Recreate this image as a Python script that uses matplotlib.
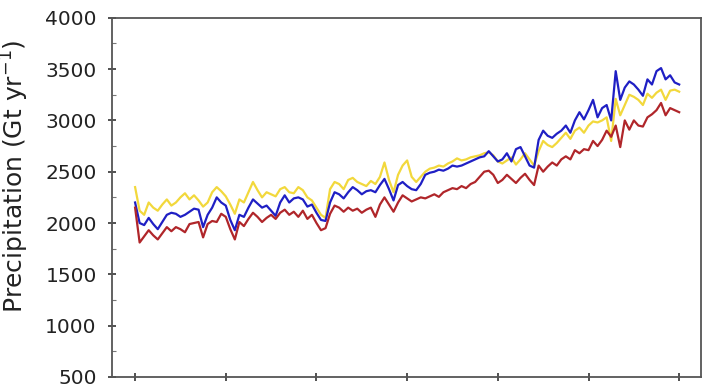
import matplotlib
matplotlib.use("Agg")
import matplotlib.pyplot as plt
from matplotlib.ticker import MultipleLocator

years = list(range(1980, 2101))

precip_red = [
    2150, 1810, 1870, 1930, 1880, 1840, 1900, 1960, 1920, 1960,
    1940, 1910, 1990, 2000, 2010, 1860, 1990, 2020, 2010, 2090,
    2060, 1940, 1840, 2010, 1970, 2040, 2100, 2060, 2010, 2050,
    2080, 2040, 2100, 2130, 2080, 2110, 2060, 2120, 2040, 2080,
    2000, 1930, 1950, 2090, 2170, 2150, 2110, 2150, 2120, 2140,
    2100, 2130, 2150, 2060, 2180, 2250, 2180, 2110, 2200, 2270,
    2240, 2210, 2230, 2250, 2240, 2260, 2280, 2255, 2300, 2320,
    2340, 2330, 2360, 2340, 2380, 2400, 2450, 2500, 2510, 2470,
    2390, 2420, 2470, 2430, 2390, 2440, 2480, 2420, 2370, 2560,
    2500, 2550, 2590, 2560, 2620, 2650, 2620, 2710, 2680, 2720,
    2710, 2800, 2750, 2810, 2900, 2840, 2950, 2740, 3000, 2910,
    3000, 2950, 2940, 3030, 3060, 3100, 3170, 3050, 3120, 3100,
    3080,
]

precip_blue = [
    2200, 2000, 1980, 2050, 1990, 1940, 2010, 2080, 2100, 2090,
    2060, 2080, 2110, 2140, 2130, 1960, 2080, 2150, 2250, 2200,
    2170, 2030, 1930, 2080, 2060, 2150, 2230, 2190, 2150, 2170,
    2120, 2070, 2200, 2270, 2200, 2240, 2250, 2230, 2160, 2180,
    2100, 2030, 2020, 2200, 2300, 2280, 2240, 2300, 2350, 2320,
    2280, 2310, 2320, 2300, 2370, 2430, 2330, 2220, 2370, 2400,
    2360, 2330, 2320, 2380, 2470, 2490, 2500, 2520, 2510, 2530,
    2560, 2550, 2560, 2580, 2600, 2620, 2640, 2650, 2700, 2650,
    2600, 2620, 2680, 2600, 2720, 2740, 2650, 2560, 2540, 2810,
    2900, 2850, 2830, 2870, 2900, 2950, 2880, 3000, 3080, 3010,
    3100, 3200, 3030, 3120, 3150, 3000, 3480, 3200, 3320, 3380,
    3350, 3300, 3240, 3400, 3350, 3480, 3510, 3400, 3440, 3370,
    3350,
]

precip_yellow = [
    2350, 2120, 2080, 2200, 2150, 2120, 2180, 2230, 2170, 2200,
    2250, 2290, 2230, 2270, 2220, 2160, 2200, 2300, 2350, 2310,
    2260, 2180, 2090, 2230, 2200, 2300, 2400, 2320, 2250, 2300,
    2280, 2260, 2330, 2350, 2300, 2290, 2350, 2320, 2250, 2220,
    2150, 2080, 2050, 2330, 2400, 2380, 2330, 2420, 2440, 2400,
    2380, 2360, 2410, 2380, 2450, 2590, 2420, 2300, 2470, 2560,
    2610, 2450, 2400, 2450, 2500, 2530, 2540, 2560, 2550, 2580,
    2600, 2630, 2610, 2620, 2640, 2650, 2660, 2680, 2690, 2660,
    2600, 2580, 2610, 2640, 2570, 2620, 2680, 2620, 2560, 2700,
    2800, 2760, 2740, 2780, 2830, 2880, 2820, 2900, 2930, 2880,
    2950, 2990, 2980, 3000, 3030, 2800, 3210, 3050, 3150, 3250,
    3230, 3200, 3150, 3260, 3220, 3270, 3300, 3200, 3290, 3300,
    3280,
]

fig = plt.figure(figsize=(7.02, 3.87), dpi=100)
ax = fig.add_axes([0.1595, 0.026, 0.839, 0.928])

ax.plot(years, precip_yellow, color="#f2d83c", lw=1.6, zorder=2)
ax.plot(years, precip_blue, color="#1f1fc4", lw=1.6, zorder=3)
ax.plot(years, precip_red, color="#b0262a", lw=1.6, zorder=4)

ax.set_xlim(1974.9, 2104.8)
ax.set_ylim(500, 4000)
ax.xaxis.set_major_locator(MultipleLocator(20))
ax.yaxis.set_major_locator(MultipleLocator(500))
ax.yaxis.set_minor_locator(MultipleLocator(250))
ax.set_xticklabels([])

spine_col = "#555555"
for s in ax.spines.values():
    s.set_color(spine_col)
    s.set_linewidth(1.3)
ax.tick_params(axis="both", which="major", direction="inout", length=6,
               width=1.2, color="#333333", labelsize=14.5, labelcolor="#222222")
ax.tick_params(axis="y", which="major", pad=8)
ax.tick_params(axis="y", which="minor", direction="in", length=3,
               width=0.8, color="#777777")

ax.set_ylabel("Precipitation (Gt yr$^{-1}$)", fontsize=18, color="#222222")
ax.yaxis.set_label_coords(-0.1375, 0.5585)

fig.savefig("out.png", dpi=100)
